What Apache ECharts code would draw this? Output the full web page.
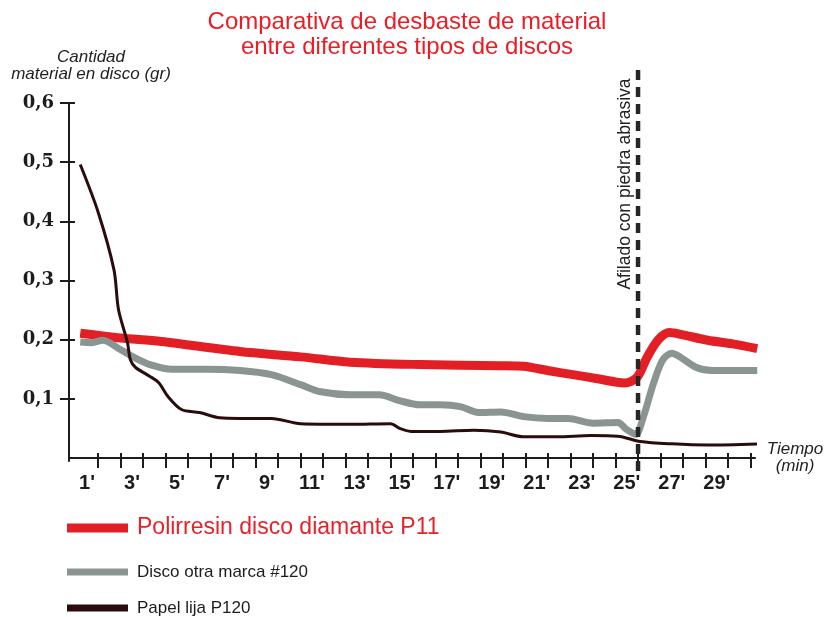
<!DOCTYPE html>
<html>
<head>
<meta charset="utf-8">
<script src="https://cdn.jsdelivr.net/npm/echarts@6/dist/echarts.min.js"></script>
<style>html,body{margin:0;padding:0;background:#fff}#c{width:826px;height:617px}</style>
</head>
<body>
<div id="c"></div>
<script>
// ---- chart texts ----
const titleText = 'Comparativa de desbaste de material\nentre diferentes tipos de discos';
const yAxisName = 'Cantidad\nmaterial en disco (gr)';
const xAxisName = 'Tiempo\n(min)';
const annotationText = 'Afilado con piedra abrasiva';
const seriesNames = ['Polirresin disco diamante P11', 'Disco otra marca #120', 'Papel lija P120'];

// ---- axis ticks / labels ----
const xLabelValues = [1, 3, 5, 7, 9, 11, 13, 15, 17, 19, 21, 23, 25, 27, 29];
const xTickValues = [1.5, 2.5, 3.5, 4.5, 5.5, 6.5, 7.5, 8.5, 9.5, 10.5, 11.5, 12.5, 13.5, 14.5, 15.5,
  16.5, 17.5, 18.5, 19.5, 20.5, 21.5, 22.5, 23.5, 24.5, 25.5, 26.5, 27.5, 28.5, 29.5, 30.5];
const yTickValues = [0.1, 0.2, 0.3, 0.4, 0.5, 0.6];
const sharpeningTime = 25.5;

// ---- series data (time in minutes, grams) ----
const redTime = [0.7, 2.5, 4.3, 7.8, 10.5, 12.7, 15.8, 19.4, 20.4, 21.6, 22.6, 23.7, 24.9, 25.45, 25.9, 26.4, 26.9, 27.4, 28.6, 29.7, 30.8];
const redVals = [0.211, 0.203, 0.197, 0.180, 0.171, 0.162, 0.158, 0.156, 0.155, 0.147, 0.141, 0.134, 0.127, 0.136, 0.170, 0.200, 0.212, 0.209, 0.199, 0.193, 0.185];

const grayTime = [0.7, 1.2, 1.7, 2.5, 3.1, 3.8, 4.8, 6.3, 7.8, 9.2, 10.5, 11.4, 12.7, 14.0, 14.9, 15.8, 16.7, 17.6, 18.4, 19.4, 20.4, 21.5, 22.4, 23.5, 24.6, 25.0, 25.4, 25.7, 26.2, 26.6, 27.0, 27.4, 28.1, 28.8, 30.8];
const grayVals = [0.196, 0.195, 0.199, 0.183, 0.170, 0.158, 0.150, 0.150, 0.148, 0.141, 0.124, 0.112, 0.107, 0.107, 0.097, 0.090, 0.090, 0.087, 0.077, 0.078, 0.070, 0.067, 0.067, 0.059, 0.060, 0.048, 0.040, 0.065, 0.128, 0.166, 0.177, 0.170, 0.153, 0.148, 0.148];

const blackTime = [0.7, 1.5, 2.2, 2.4, 2.8, 2.93, 3.16, 3.8, 4.2, 4.6, 5.2, 6.0, 6.9, 7.8, 9.2, 10.5, 12.7, 14.5, 14.9, 15.4, 16.7, 18.2, 19.4, 20.4, 21.9, 23.4, 24.6, 25.6, 27.0, 28.6, 30.9];
const blackVals = [0.496, 0.415, 0.318, 0.251, 0.195, 0.166, 0.153, 0.138, 0.127, 0.104, 0.082, 0.077, 0.068, 0.067, 0.067, 0.058, 0.057, 0.058, 0.050, 0.045, 0.045, 0.047, 0.044, 0.036, 0.036, 0.038, 0.037, 0.028, 0.024, 0.022, 0.024];

const colors = ['#e31f26', '#8a9592', '#2a0c0c'];
const FONT = "'Liberation Sans', Arial, sans-serif";
const INK = '#1c1c1c';

const pairs = (t, v) => t.map((x, i) => [x, v[i]]);

const chart = echarts.init(document.getElementById('c'), null, { renderer: 'canvas' });

const lineSeries = (name, data, color, width) => ({
  name, type: 'line', data, color,
  showSymbol: false, symbol: 'none',
  smooth: 0.3,
  clip: false,
  lineStyle: { color, width, cap: 'butt', join: 'round' },
  emphasis: { disabled: true },
  silent: true
});

const legendItem = (name, top, fontSize, color, h) => ({
  data: [name], left: 67, top, orient: 'vertical', icon: 'rect',
  itemWidth: 61, itemHeight: h, padding: 0, selectedMode: false,
  itemStyle: { borderWidth: 0 },
  textStyle: { fontSize, lineHeight: fontSize + 1, color, fontFamily: FONT, padding: [0, 0, 0, 4] }
});

const option = {
  animation: false,
  backgroundColor: '#ffffff',
  title: {
    text: titleText, left: 407, top: 10, padding: 0, textAlign: 'center',
    textStyle: { color: '#ec1c24', fontSize: 24, lineHeight: 25, fontWeight: 'normal', fontFamily: FONT }
  },
  grid: { left: 69, right: 71, top: 103, bottom: 156, outerBoundsMode: 'none', containLabel: false },
  legend: [
    legendItem(seriesNames[0], 516, 23, '#e8202a', 9),
    legendItem(seriesNames[1], 563, 17, INK, 7),
    legendItem(seriesNames[2], 599, 17, INK, 7)
  ],
  xAxis: [
    {
      type: 'value', min: 0.2, max: 30.7, position: 'bottom',
      name: xAxisName, nameLocation: 'end', nameGap: 40,
      nameTextStyle: { fontSize: 17, fontStyle: 'italic', lineHeight: 17, color: '#222', fontFamily: FONT,
        align: 'center', verticalAlign: 'middle', padding: [30, 0, 0, 0] },
      axisLine: { show: true, lineStyle: { color: INK, width: 2 } },
      axisTick: { show: true, customValues: xTickValues, length: 10, inside: false, lineStyle: { color: INK, width: 2 } },
      axisLabel: { customValues: xLabelValues, formatter: v => v + "'", fontSize: 20, fontWeight: 'bold',
        color: INK, fontFamily: FONT, margin: 12 },
      splitLine: { show: false }
    },
    {
      type: 'value', min: 0.2, max: 30.7, position: 'bottom', offset: 0,
      axisLine: { show: false },
      axisTick: { show: true, customValues: xTickValues, length: 5, inside: true, lineStyle: { color: INK, width: 2 } },
      axisLabel: { show: false },
      splitLine: { show: false }
    }
  ],
  yAxis: [
    {
      type: 'value', min: -0.005, max: 0.6, position: 'left',
      name: yAxisName, nameLocation: 'end', nameGap: 20,
      nameTextStyle: { fontSize: 17, fontStyle: 'italic', lineHeight: 17, color: '#222', fontFamily: FONT,
        align: 'center', padding: [0, 0, 0, 44] },
      axisLine: { show: true, lineStyle: { color: INK, width: 2 } },
      axisTick: { show: true, customValues: yTickValues, length: 9, inside: false, lineStyle: { color: INK, width: 2 } },
      axisLabel: { customValues: yTickValues, formatter: v => v.toFixed(1).replace('.', ','),
        fontSize: 18, fontWeight: 'bold', color: INK, fontFamily: "'DejaVu Serif', serif", margin: 15 },
      splitLine: { show: false }
    },
    {
      type: 'value', min: -0.005, max: 0.6, position: 'left', offset: 0,
      axisLine: { show: false },
      axisTick: { show: true, customValues: yTickValues, length: 6, inside: true, lineStyle: { color: INK, width: 2 } },
      axisLabel: { show: false },
      splitLine: { show: false }
    }
  ],
  series: [
    lineSeries(seriesNames[0], pairs(redTime, redVals), colors[0], 9),
    lineSeries(seriesNames[1], pairs(grayTime, grayVals), colors[1], 7),
    lineSeries(seriesNames[2], pairs(blackTime, blackVals), colors[2], 3)
  ]
};

chart.setOption(option);

// Sharpening marker positioned through the x scale
const xp = chart.convertToPixel({ xAxisIndex: 0 }, sharpeningTime);
chart.setOption({
  graphic: [
    {
      type: 'line', z: 100, silent: true,
      shape: { x1: xp, y1: 70, x2: xp, y2: 471 },
      style: { stroke: '#262626', lineWidth: 4.5, lineDash: [10, 7] }
    },
    {
      type: 'text', z: 100, silent: true,
      x: xp - 13, y: 184, rotation: Math.PI / 2,
      style: { text: annotationText, fontSize: 17.5, fill: '#222', fontFamily: FONT, align: 'center', verticalAlign: 'middle' }
    }
  ]
});
</script>
</body>
</html>
